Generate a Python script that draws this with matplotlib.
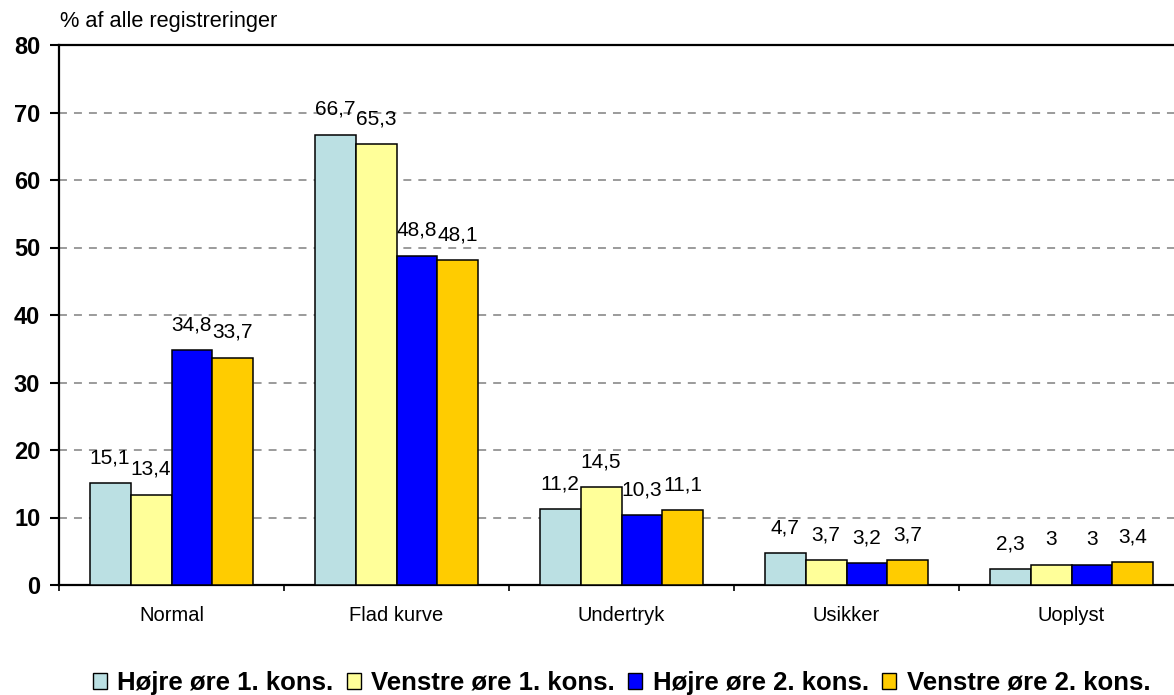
import numpy as np
import matplotlib
matplotlib.use('Agg')
import matplotlib.pyplot as plt

# data
kategorier = ['Normal', 'Flad kurve', 'Undertryk', 'Usikker', 'Uoplyst']
serier = ['Højre øre 1. kons.', 'Venstre øre 1. kons.', 'Højre øre 2. kons.', 'Venstre øre 2. kons.']
hojre_1 = [15.1, 66.7, 11.2, 4.7, 2.3]
venstre_1 = [13.4, 65.3, 14.5, 3.7, 3.0]
hojre_2 = [34.8, 48.8, 10.3, 3.2, 3.0]
venstre_2 = [33.7, 48.1, 11.1, 3.7, 3.4]
farver = ['#BBE0E3', '#FFFF99', '#0000FF', '#FFCC00']

plt.rcParams['font.family'] = ['Liberation Sans', 'DejaVu Sans']

fig = plt.figure(figsize=(11.74, 6.95), dpi=100)
ax = fig.add_axes([59/1174, 1-585/695, (1184-59)/1174, (585-45)/695])

x = np.arange(len(kategorier))
b = 0.182
alle = [hojre_1, venstre_1, hojre_2, venstre_2]
for i, vals in enumerate(alle):
    bars = ax.bar(x + (i-1.5)*b, vals, b, color=farver[i], edgecolor='black',
                  linewidth=1.1, label=serier[i], zorder=3)
    for r, v in zip(bars, vals):
        txt = ('%g' % v).replace('.', ',')
        ax.annotate(txt, (r.get_x()+r.get_width()/2, v), xytext=(0, 14.4),
                    textcoords='offset points', ha='center', va='baseline', fontsize=15)

ax.set_xlim(-0.5, 4.5)
ax.set_ylim(0, 80)
ax.set_yticks(range(0, 81, 10))
ax.set_yticklabels([str(t) for t in range(0, 81, 10)], fontweight='bold', fontsize=17)
ax.tick_params(axis='y', direction='out', length=6.5, width=1.5, pad=7)
ax.set_xticks(np.arange(-0.5, 5, 1))
ax.set_xticklabels([])
ax.tick_params(axis='x', which='major', direction='out', length=4.5, width=1.2)
ax.set_xticks(x, minor=True)
ax.set_xticklabels(kategorier, minor=True, fontsize=14.5)
ax.tick_params(axis='x', which='minor', length=0, pad=15)

for yv in range(10, 80, 10):
    ax.axhline(yv, color='#808080', linewidth=1.1, linestyle=(0, (5.2, 4.6)), zorder=1)

for s in ax.spines.values():
    s.set_linewidth(1.6)

fig.text(60/1174, 1-27/695, '% af alle registreringer', fontsize=15.7, va='baseline')

leg = fig.legend(loc='center', bbox_to_anchor=(621.5/1174, 12/695), ncol=4, frameon=False,
                 prop={'weight': 'bold', 'size': 18.5},
                 handlelength=0.55, handleheight=0.55, handletextpad=0.42, columnspacing=0.5,
                 borderpad=0)
for h in leg.legend_handles:
    h.set_linewidth(1.0)

fig.savefig('out.png', dpi=100)
